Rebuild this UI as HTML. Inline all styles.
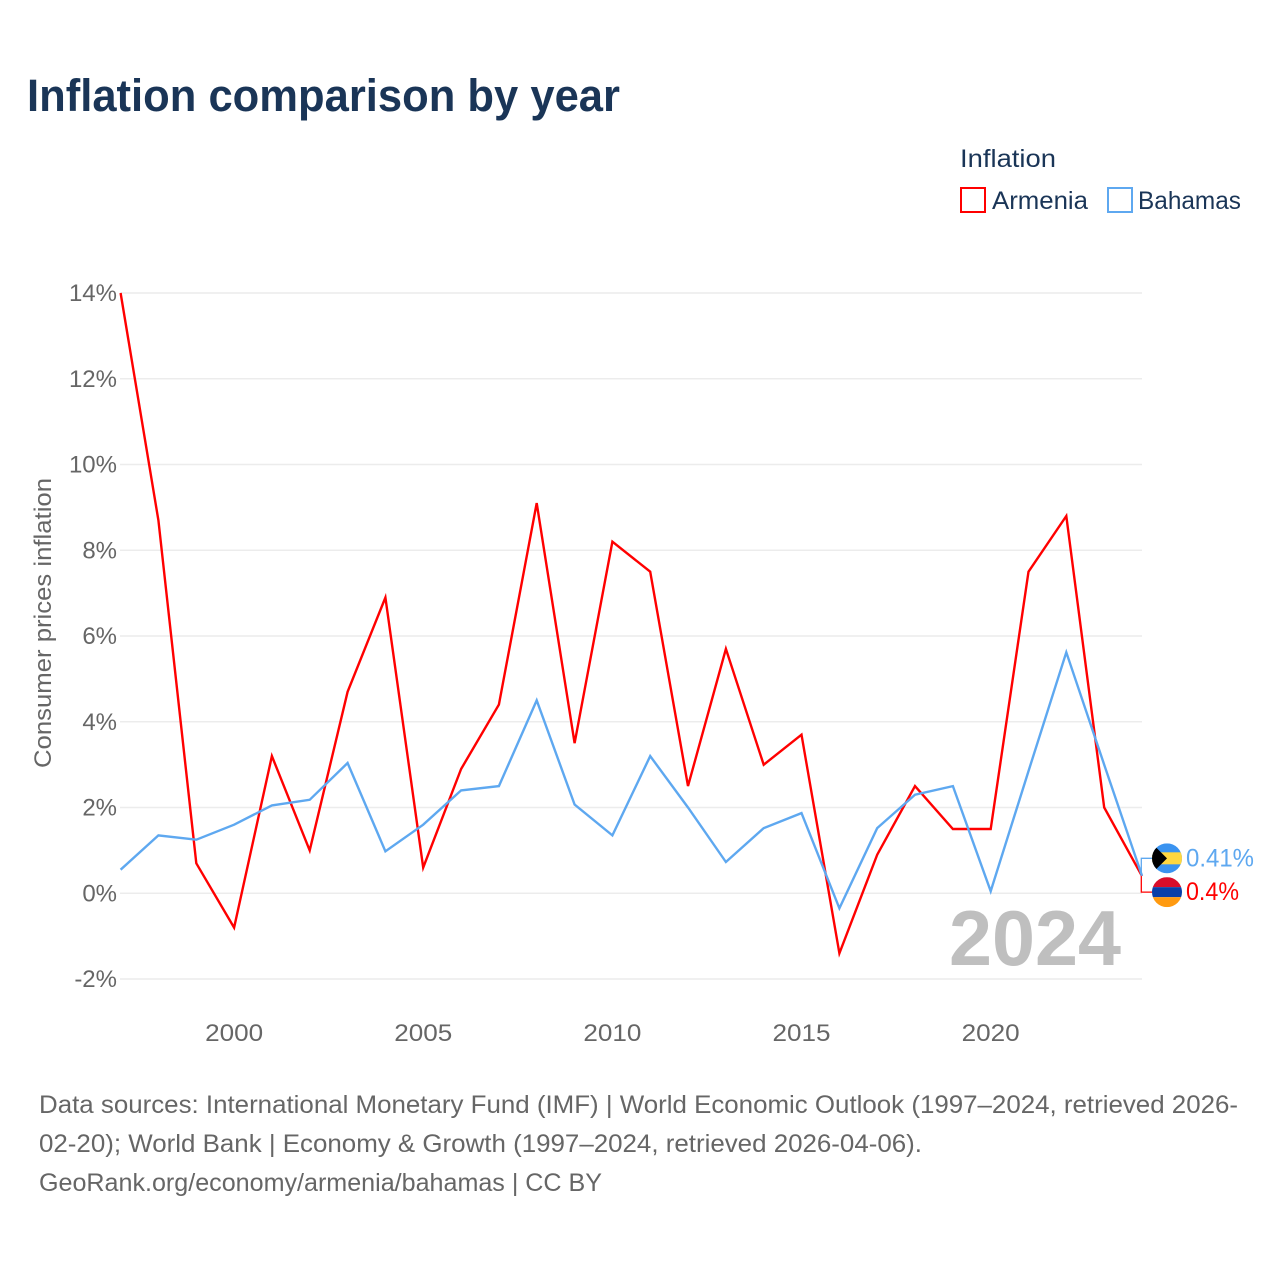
<!DOCTYPE html>
<html>
<head>
<meta charset="utf-8">
<title>Inflation comparison by year</title>
<style>
html,body{margin:0;padding:0;background:#fff}
svg{display:block}
text{font-family:"Liberation Sans",sans-serif}
</style>
</head>
<body>
<svg id="chart" width="1280" height="1280" viewBox="0 0 1280 1280" xmlns="http://www.w3.org/2000/svg">
  <defs>
    <clipPath id="clip-bs"><circle id="clip-bs-circle" cx="0" cy="0" r="15"></circle></clipPath>
    <clipPath id="clip-am"><circle id="clip-am-circle" cx="0" cy="0" r="15"></circle></clipPath>
  </defs>
  <rect width="1280" height="1280" fill="#fff"></rect>
  <text x="27" y="111" font-size="45" font-weight="700" fill="#1a3557" textLength="593" lengthAdjust="spacingAndGlyphs">Inflation comparison by year</text>

  <g>
    <text x="960" y="167" font-size="25" fill="#1a3557" textLength="96" lengthAdjust="spacingAndGlyphs">Inflation</text>
    <rect x="961" y="188" width="24" height="24" fill="#fff" stroke="#ff0000" stroke-width="2"></rect>
    <text x="992" y="209" font-size="25" fill="#1a3557" textLength="96" lengthAdjust="spacingAndGlyphs">Armenia</text>
    <rect x="1108" y="188" width="24" height="24" fill="#fff" stroke="#5ea8f0" stroke-width="2"></rect>
    <text x="1138" y="209" font-size="25" fill="#1a3557" textLength="103" lengthAdjust="spacingAndGlyphs">Bahamas</text>
  </g>

  <g id="grid"></g>
  <g id="yticks"></g>
  <g id="xticks"></g>
  <text transform="translate(51 623) rotate(-90)" text-anchor="middle" font-size="24.5" fill="#666" textLength="290" lengthAdjust="spacingAndGlyphs">Consumer prices inflation</text>

  <text id="year-label" x="949" y="965" font-size="78" font-weight="700" fill="#bfbfbf" textLength="172" lengthAdjust="spacingAndGlyphs"></text>

  <g id="series"></g>

  <g id="end-labels">
    <g id="flag-bs" clip-path="url(#clip-bs)">
      <rect x="-15" y="-15" width="30" height="30" fill="#3a93f0"></rect>
      <rect x="-15" y="-6" width="30" height="12" fill="#ffd740"></rect>
      <path d="M-15 -15 L0 0 L-15 15 Z" fill="#000"></path>
    </g>
    <g id="flag-am" clip-path="url(#clip-am)">
      <rect x="-15" y="-15" width="30" height="10" fill="#d90d2b"></rect>
      <rect x="-15" y="-5" width="30" height="10" fill="#0a3fa8"></rect>
      <rect x="-15" y="5" width="30" height="10" fill="#ff9a10"></rect>
    </g>
  </g>

  <g font-size="25" fill="#666">
    <text x="39" y="1113" textLength="1199" lengthAdjust="spacingAndGlyphs">Data sources: International Monetary Fund (IMF) | World Economic Outlook (1997–2024, retrieved 2026-</text>
    <text x="39" y="1152" textLength="883" lengthAdjust="spacingAndGlyphs">02-20); World Bank | Economy &amp; Growth (1997–2024, retrieved 2026-04-06).</text>
    <text x="39" y="1191" textLength="563" lengthAdjust="spacingAndGlyphs">GeoRank.org/economy/armenia/bahamas | CC BY</text>
  </g>
</svg>
<script>
const years = [1997,1998,1999,2000,2001,2002,2003,2004,2005,2006,2007,2008,2009,2010,2011,2012,2013,2014,2015,2016,2017,2018,2019,2020,2021,2022,2023,2024];
const armenia = [14,8.7,0.7,-0.8,3.2,1.0,4.7,6.9,0.6,2.9,4.4,9.1,3.5,8.2,7.5,2.5,5.7,3.0,3.7,-1.4,0.9,2.5,1.5,1.5,7.5,8.8,2.0,0.4];
const bahamas = [0.55,1.35,1.25,1.6,2.05,2.18,3.04,0.98,1.6,2.4,2.5,4.5,2.07,1.35,3.2,2.0,0.73,1.52,1.87,-0.35,1.52,2.3,2.5,0.05,2.85,5.62,3.0,0.41];
const yTicks = [-2,0,2,4,6,8,10,12,14];
const xTicks = [2000,2005,2010,2015,2020];

const NS = 'http://www.w3.org/2000/svg';
const RED = '#ff0000';
const BLUE = '#5ea8f0';
const PLOT_LEFT = 120;
const PLOT_RIGHT = 1142;

function xScale(year) { return 120.6 + (year - 1997) * (1142 - 120.6) / 27; }
function yScale(value) { return 893.3 - value * 42.875; }
function make(tag, attrs, text) {
  const el = document.createElementNS(NS, tag);
  for (const k in attrs) el.setAttribute(k, attrs[k]);
  if (text !== undefined) el.textContent = text;
  return el;
}

const grid = document.getElementById('grid');
const yGroup = document.getElementById('yticks');
yTicks.forEach(function (t) {
  const line = make('line', {x1: PLOT_LEFT, x2: PLOT_RIGHT, y1: yScale(t), y2: yScale(t), stroke: '#ececec', 'stroke-width': 1.5});
  
  
  grid.appendChild(line);
  const label = make('text', {x: 117, y: yScale(t) + 8, 'text-anchor': 'end', 'font-size': 24, fill: '#666'}, t + '%');
  
  
  yGroup.appendChild(label);
});

const xGroup = document.getElementById('xticks');
xTicks.forEach(function (t) {
  const label = make('text', {x: xScale(t) - 29, y: 1041, 'font-size': 24, fill: '#666', textLength: 58, lengthAdjust: 'spacingAndGlyphs'}, String(t));
  
  
  xGroup.appendChild(label);
});

document.getElementById('year-label').textContent = String(years[years.length - 1]);

function linePoints(values) {
  return values.map(function (v, i) { return xScale(years[i]).toFixed(1) + ',' + yScale(v).toFixed(1); }).join(' ');
}
const seriesGroup = document.getElementById('series');
const armeniaLine = make('polyline', {points: linePoints(armenia), fill: 'none', stroke: RED, 'stroke-width': 2.4, 'stroke-linejoin': 'miter'});


seriesGroup.appendChild(armeniaLine);
const bahamasLine = make('polyline', {points: linePoints(bahamas), fill: 'none', stroke: BLUE, 'stroke-width': 2.4, 'stroke-linejoin': 'miter'});


seriesGroup.appendChild(bahamasLine);

const endGroup = document.getElementById('end-labels');
const xEnd = xScale(years[years.length - 1]) - 0.7;
const yBs = yScale(bahamas[bahamas.length - 1]);
const yAm = yScale(armenia[armenia.length - 1]);
const bsRowY = yBs - 17.4;
const amRowY = yAm + 16;

const bsConnector = make('path', {d: 'M' + xEnd + ' ' + (yBs - 2) + ' V' + bsRowY + ' H1152', fill: 'none', stroke: BLUE, 'stroke-width': 1.3});


endGroup.insertBefore(bsConnector, endGroup.firstChild);
const amConnector = make('path', {d: 'M' + xEnd + ' ' + yAm + ' V' + amRowY + ' H1152', fill: 'none', stroke: RED, 'stroke-width': 1.3});


endGroup.insertBefore(amConnector, endGroup.firstChild);

document.getElementById('flag-bs').setAttribute('transform', 'translate(1167 ' + bsRowY + ')');
document.getElementById('flag-am').setAttribute('transform', 'translate(1167 ' + amRowY + ')');

const bsValue = make('text', {x: 1186, y: bsRowY + 8, 'font-size': 25, fill: BLUE, textLength: 68, lengthAdjust: 'spacingAndGlyphs'}, bahamas[bahamas.length - 1] + '%');


endGroup.appendChild(bsValue);
const amValue = make('text', {x: 1186, y: amRowY + 8, 'font-size': 25, fill: RED, textLength: 53, lengthAdjust: 'spacingAndGlyphs'}, armenia[armenia.length - 1] + '%');


endGroup.appendChild(amValue);
</script>
</body>
</html>
